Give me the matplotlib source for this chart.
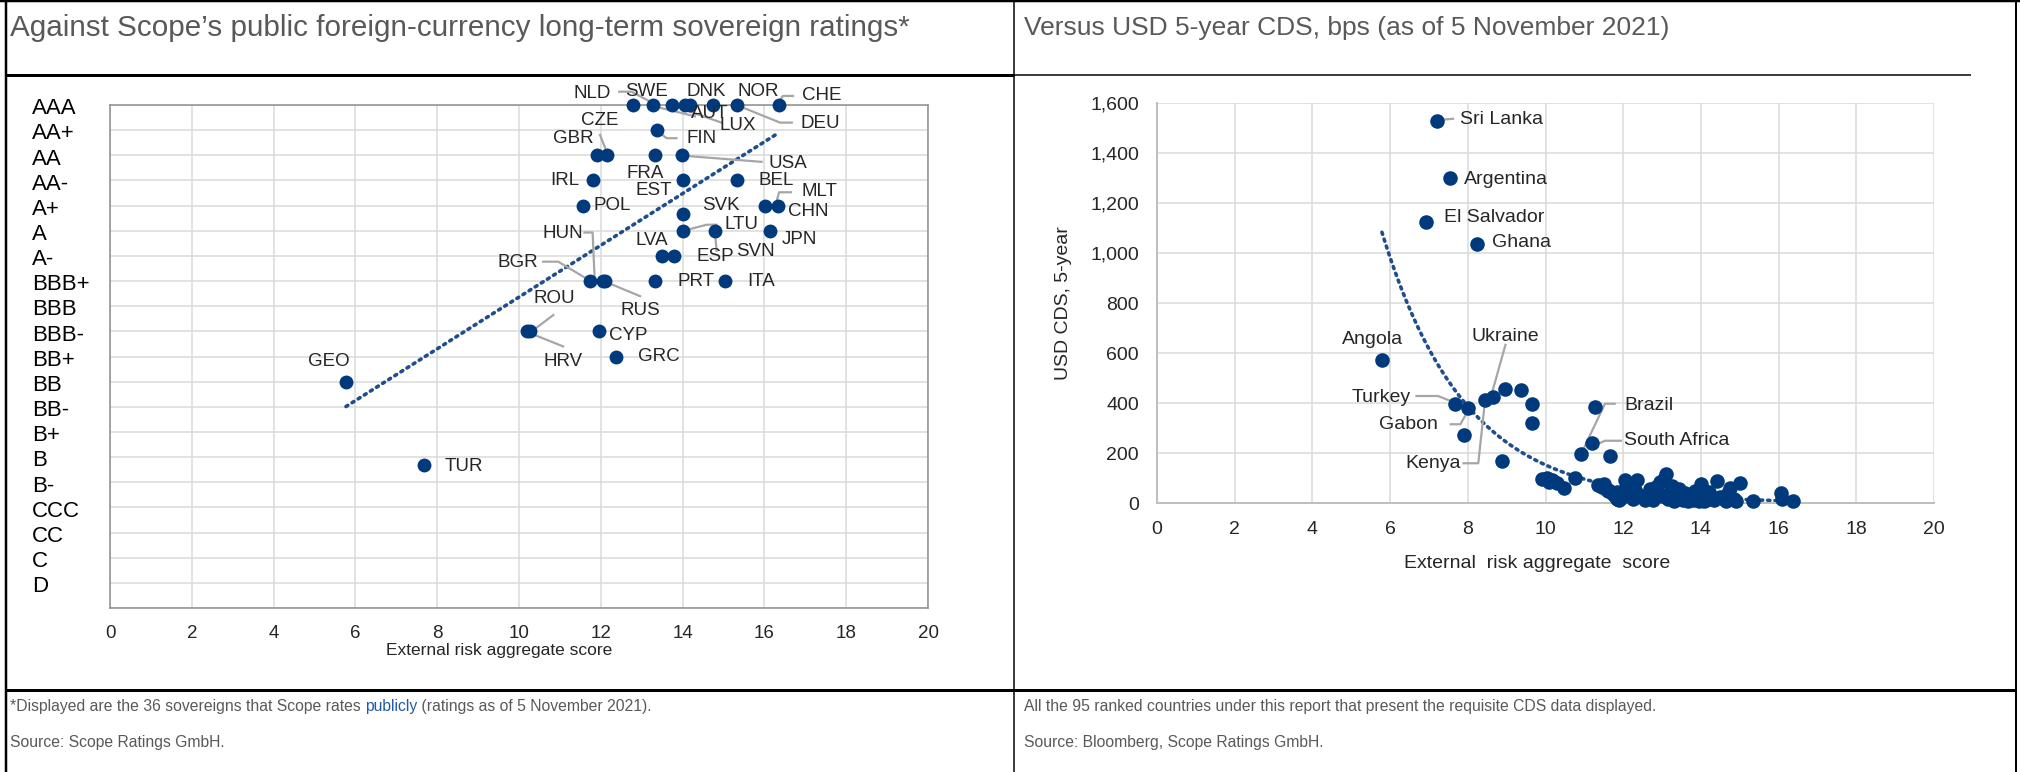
import numpy as np
import matplotlib
matplotlib.use('Agg')
import matplotlib.pyplot as plt
import matplotlib.transforms as mtransforms
from matplotlib.ticker import FuncFormatter

plt.rcParams['font.family'] = ['Liberation Sans', 'DejaVu Sans']

W, H = 2020, 772

# ---------------- data: left chart (Scope ratings) ----------------
ratings = ['AAA', 'AA+', 'AA', 'AA-', 'A+', 'A', 'A-', 'BBB+', 'BBB', 'BBB-',
           'BB+', 'BB', 'BB-', 'B+', 'B', 'B-', 'CCC', 'CC', 'C', 'D']
rating_steps = list(range(20, 0, -1))

left_names = ['NLD', 'SWE', 'AUT', 'LUX', 'DNK', 'NOR', 'DEU', 'CHE',
              'FIN', 'GBR', 'CZE', 'FRA', 'USA', 'IRL', 'EST', 'BEL',
              'POL', 'MLT', 'CHN', 'SVK', 'LTU', 'SVN', 'JPN', 'LVA', 'ESP',
              'BGR', 'HUN', 'RUS', 'PRT', 'ITA', 'ROU', 'HRV', 'CYP', 'GRC',
              'GEO', 'TUR']
left_score = [12.78, 13.28, 13.73, 14.06, 14.18, 14.75, 15.32, 16.35,
              13.37, 11.90, 12.16, 13.33, 13.98, 11.80, 14.02, 15.32,
              11.57, 16.01, 16.34, 14.02, 14.02, 14.79, 16.14, 13.49, 13.79,
              11.74, 12.05, 12.10, 13.33, 15.04, 10.20, 10.28, 11.96, 12.37,
              5.77, 7.68]
left_rating = [20, 20, 20, 20, 20, 20, 20, 20,
               19, 18, 18, 18, 18, 17, 17, 17,
               16, 16, 16, 15.67, 15, 15, 15, 14, 14,
               13, 13, 13, 13, 13, 11, 11, 11, 10,
               9, 5.67]

# label anchor (centre) for each country, in data units
left_lab_x = [11.78, 13.12, 14.67, 15.36, 14.59, 15.85, 17.36, 17.40,
              14.47, 11.34, 11.98, 13.08, 16.58, 11.12, 13.30, 16.28,
              12.29, 17.34, 17.07, 14.93, 15.44, 15.77, 16.85, 13.24, 14.79,
              9.96, 11.07, 12.96, 14.33, 15.93, 10.86, 11.07, 12.67, 13.43,
              5.35, 8.65]
left_lab_y = [20.44, 20.53, 19.67, 19.20, 20.53, 20.53, 19.27, 20.36,
              18.65, 18.67, 19.40, 17.28, 17.68, 17.00, 16.62, 17.00,
              16.00, 16.55, 15.76, 16.02, 15.23, 14.17, 14.66, 14.60, 13.97,
              13.73, 14.90, 11.82, 13.00, 13.00, 12.31, 9.79, 10.85, 10.00,
              9.79, 5.62]

left_leaders = [
    [(12.45, 20.53), (12.75, 20.53), (13.28, 20.07)],
    [(13.35, 19.93), (14.30, 19.55)],
    [(13.80, 19.95), (14.95, 19.30)],
    [(15.32, 20.0), (16.38, 19.30), (16.67, 19.30)],
    [(16.35, 20.1), (16.45, 20.36), (16.70, 20.36)],
    [(13.45, 18.88), (13.61, 18.68), (13.85, 18.68)],
    [(11.98, 18.81), (12.16, 18.08)],
    [(14.05, 17.98), (15.93, 17.74)],
    [(16.28, 16.07), (16.36, 16.53), (16.65, 16.53)],
    [(16.05, 15.97), (16.30, 15.85)],
    [(14.02, 15.0), (14.59, 15.24), (14.83, 15.24)],
    [(14.79, 15.0), (14.83, 14.2)],
    [(11.60, 14.93), (11.80, 14.93), (11.85, 13.04)],
    [(10.59, 13.77), (10.96, 13.77), (11.74, 13.01)],
    [(12.10, 12.98), (12.96, 12.40)],
    [(10.84, 11.65), (10.31, 11.0)],
    [(10.27, 10.93), (11.08, 10.40)],
]

# ---------------- data: right chart (CDS) ----------------
right_score = [7.20, 7.53, 6.92, 8.24, 5.79, 7.68, 8.00, 7.89, 8.44, 8.64,
               8.97, 9.38, 9.66, 9.66, 8.88, 10.92, 11.20, 11.65, 11.28,
               9.92, 10.05, 10.18, 10.20, 10.30, 10.47, 10.10, 10.77,
               11.35, 11.45, 11.50, 11.55, 11.62, 11.70, 11.75, 11.80, 11.85, 11.90,
               11.95, 12.00, 12.05, 12.10, 12.15, 12.20, 12.25, 12.30, 12.36, 12.40,
               12.55, 12.70, 12.75, 12.77, 12.85, 12.90, 12.94, 13.00, 13.05, 13.10,
               13.15, 13.20, 13.25,
               13.30, 13.35, 13.40, 13.43, 13.50, 13.55, 13.60, 13.65, 13.68, 13.75,
               13.80, 13.85, 13.92, 13.95, 14.00, 14.02, 14.05, 14.09, 14.12, 14.15,
               14.20, 14.35,
               14.42, 14.50, 14.59, 14.65, 14.70, 14.76, 14.85, 14.90, 15.00,
               15.33, 16.05, 16.10, 16.38]
right_cds = [1529, 1299, 1125, 1035, 573, 397, 381, 271, 411, 424,
             457, 454, 397, 319, 170, 196, 242, 189, 384,
             97, 100, 92, 88, 80, 60, 84, 100,
             72, 65, 78, 58, 50, 44, 35, 28, 18, 12,
             22, 48, 92, 40, 62, 30, 16, 52, 92, 34,
             12, 55, 22, 12, 66, 40, 84, 30, 96, 117,
             15, 45, 68,
             8, 18, 35, 57, 20, 11, 42, 16, 8, 25,
             12, 50, 38, 10, 76, 20, 52, 8, 12, 28,
             45, 13,
             88, 24, 15, 9, 40, 60, 17, 8, 80,
             8, 40, 18, 7]

right_lab_text = ['Sri Lanka', 'Argentina', 'El Salvador', 'Ghana', 'Angola',
                  'Ukraine', 'Turkey', 'Gabon', 'Kenya', 'Brazil', 'South Africa']
right_lab_x = [7.79, 7.90, 7.38, 8.62, 5.55, 8.97, 6.52, 7.23, 7.81, 12.03, 12.03]
right_lab_y = [1535, 1295, 1143, 1041, 652, 666, 421, 313, 156, 388, 249]
right_lab_ha = ['left', 'left', 'left', 'left', 'center', 'center',
                'right', 'right', 'right', 'left', 'left']

right_leaders = [
    [(7.32, 1533), (7.62, 1537)],
    [(6.68, 428), (7.23, 428), (7.68, 401)],
    [(7.56, 315), (7.81, 315), (8.00, 368)],
    [(7.89, 159), (8.27, 159), (8.44, 405)],
    [(8.97, 633), (8.60, 428)],
    [(11.78, 397), (11.53, 397), (10.95, 207)],
    [(11.94, 249), (11.53, 249), (11.12, 220)],
]

left_title = 'Against Scope\u2019s public foreign-currency long-term sovereign ratings*'
right_title = 'Versus USD 5-year CDS, bps (as of 5 November 2021)'

# ---------------- style ----------------
DOT = '#003A7D'
TREND = '#1F4E8C'
GRID = '#d9d9d9'
TXT = '#262626'
GREY = '#595959'
LEAD = '#a6a6a6'
PT = 0.72  # points per pixel at dpi 100

fig = plt.figure(figsize=(W / 100, H / 100), dpi=100)

# table frame
bg = fig.add_axes([0, 0, 1, 1])
bg.set_xlim(0, W)
bg.set_ylim(H, 0)
bg.axis('off')
k = dict(color='black', solid_capstyle='butt')
bg.plot([0, W], [1, 1], lw=2.5 * PT, **k)
bg.plot([6, 6], [0, H], lw=2.5 * PT, **k)
bg.plot([2016, 2016], [0, H], lw=2 * PT, **k)
bg.plot([1014, 1014], [0, H], lw=1.5 * PT, **k)
bg.plot([6, 1014], [75, 75], lw=3 * PT, **k)
bg.plot([1014, 1971], [75, 75], lw=1.5 * PT, **k)
bg.plot([6, 2016], [690, 690], lw=3 * PT, **k)

bg.text(10, 36, left_title, fontsize=21.3, color=GREY, va='baseline')
bg.text(1024, 35, right_title, fontsize=19, color=GREY, va='baseline')

FN = 11.3
t1 = bg.text(10, 707, '*Displayed are the 36 sovereigns that Scope rates ',
             fontsize=FN, color=GREY, va='center')
t2 = bg.annotate('publicly', xy=(1, 0), xycoords=t1, va='bottom',
                 fontsize=FN, color='#1F5AA6')
bg.annotate(' (ratings as of 5 November 2021).', xy=(1, 0), xycoords=t2,
            va='bottom', fontsize=FN, color=GREY)
bg.text(10, 743, 'Source: Scope Ratings GmbH.', fontsize=FN, color=GREY, va='center')
bg.text(1024, 707, 'All the 95 ranked countries under this report that present '
        'the requisite CDS data displayed.', fontsize=FN, color=GREY, va='center')
bg.text(1024, 743, 'Source: Bloomberg, Scope Ratings GmbH.', fontsize=FN,
        color=GREY, va='center')

# ---------------- left chart ----------------
axL = fig.add_axes([110 / W, 1 - 608 / H, 818 / W, 503 / H])
axL.set_xlim(0, 20)
axL.set_ylim(0, 20)
axL.set_xticks(range(0, 21, 2))
axL.set_yticks(range(0, 21))
axL.set_yticklabels([])
axL.grid(True, color=GRID, lw=1.5 * PT, zorder=0)
axL.set_axisbelow(True)
axL.tick_params(length=0, labelsize=13.5, labelcolor=TXT, pad=12)
for s in axL.spines.values():
    s.set_color('#8c8c8c')
    s.set_linewidth(1.5 * PT)

tr = mtransforms.blended_transform_factory(fig.transFigure, axL.transData)
for lab, pos in zip(ratings, rating_steps):
    axL.text(32 / W, pos - 0.15, lab, transform=tr, fontsize=16, color='black',
             va='center', ha='left')

cL = np.polyfit(left_score, left_rating, 1)
xl = np.array([min(left_score), max(left_score)])
axL.plot(xl, np.polyval(cL, xl), color=TREND, lw=2.6, ls=(0, (0.6, 1.4)),
         dash_capstyle='round', zorder=2)

for seg in left_leaders:
    xs, ys = zip(*seg)
    axL.plot(xs, ys, color=LEAD, lw=1.6, zorder=2, clip_on=False)

axL.scatter(left_score, left_rating, s=100, color=DOT, zorder=4, clip_on=False,
            linewidths=0)
for name, lx, ly in zip(left_names, left_lab_x, left_lab_y):
    axL.text(lx, ly, name, fontsize=13.5, color=TXT, ha='center', va='center',
             zorder=5, clip_on=False)

bg.text(499, 651, 'External risk aggregate score', fontsize=12.5, color=TXT,
        ha='center', va='center')

# ---------------- right chart ----------------
axR = fig.add_axes([1157 / W, 1 - 503 / H, (1934 - 1157) / W, 400 / H])
axR.set_xlim(0, 20)
axR.set_ylim(0, 1600)
axR.set_xticks(range(0, 21, 2))
axR.set_yticks(range(0, 1601, 200))
axR.yaxis.set_major_formatter(FuncFormatter(lambda v, p: f'{int(v):,}'))
axR.grid(True, color=GRID, lw=1.5 * PT, zorder=0)
axR.set_axisbelow(True)
axR.tick_params(length=0, labelsize=14, labelcolor=TXT)
axR.tick_params(axis='x', pad=13)
axR.tick_params(axis='y', pad=13)
for side in ['top', 'right']:
    axR.spines[side].set_visible(False)
for side in ['left', 'bottom']:
    axR.spines[side].set_color('#bfbfbf')
    axR.spines[side].set_linewidth(2 * PT)

cR = np.polyfit(right_score, np.log(right_cds), 1)
xr = np.linspace(min(right_score), max(right_score), 200)
axR.plot(xr, np.exp(np.polyval(cR, xr)), color=TREND, lw=2.6,
         ls=(0, (0.6, 1.4)), dash_capstyle='round', zorder=2)

for seg in right_leaders:
    xs, ys = zip(*seg)
    axR.plot(xs, ys, color=LEAD, lw=1.6, zorder=2)

axR.scatter(right_score, right_cds, s=110, color=DOT, zorder=4, clip_on=False,
            linewidths=0)
for t, lx, ly, ha in zip(right_lab_text, right_lab_x, right_lab_y, right_lab_ha):
    axR.text(lx, ly, t, fontsize=14, color=TXT, ha=ha, va='center', zorder=5)

bg.text(1537, 564, 'External  risk aggregate  score', fontsize=14, color=TXT,
        ha='center', va='center')
bg.text(1064, 303, 'USD CDS, 5-year', fontsize=14, color=TXT, ha='center',
        va='center', rotation=90)

fig.savefig('out.png', dpi=100)
